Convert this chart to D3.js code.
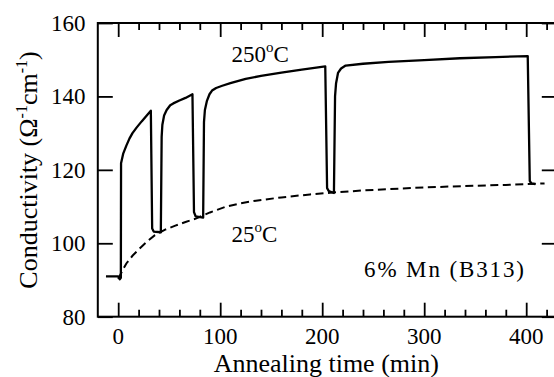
<!DOCTYPE html>
<html><head><meta charset="utf-8">
<script src="https://cdn.jsdelivr.net/npm/d3@7"></script>
<style>
svg text, svg tspan { font-family: "Liberation Serif", "Times New Roman", Tinos, Times !important; }
</style>
</head><body style="margin:0">
<svg id="c" width="554" height="377"></svg>
<script>
// ---- data ----
const xMajorTicks = [0, 100, 200, 300, 400];
const xMinorTicks = [20, 40, 60, 80, 120, 140, 160, 180, 220, 240, 260, 280, 320, 340, 360, 380, 420];
const yTicks = [80, 100, 120, 140, 160];
// 250 °C anneal cycles (time min, conductivity)
const anneal250 = [
  [-12, 91], [0, 91], [1.5, 90.2], [2.6, 90.6], [2.8, 121.8], [5, 124.5], [8, 126.6], [11, 128.5],
  [14, 130], [18, 131.5], [23, 133.2], [28, 134.8], [32, 136.1], [33.3, 104], [34.8, 103.2],
  [41.8, 103], [42.6, 129], [43.3, 132.3], [45, 134.8], [47.5, 136.3], [51, 137.6], [54, 138.1],
  [60, 138.9], [66, 139.6], [72.8, 140.6], [74.3, 108.5], [76, 107.3], [83.3, 107], [84.1, 133],
  [85, 136.3], [87, 138.8], [89.5, 140.6], [92, 141.6], [96, 142.3], [102, 142.9], [110, 143.6],
  [125, 144.8], [140, 145.6], [160, 146.5], [180, 147.3], [203, 148.2], [204.8, 115], [206.5, 114.2],
  [211.5, 113.7], [212.6, 140], [213.6, 143.6], [215.5, 146.4], [218.5, 147.6], [223, 148.4],
  [240, 148.9], [265, 149.4], [300, 149.9], [335, 150.4], [370, 150.7], [401.5, 151],
  [403.5, 117], [405, 116.3], [409, 116.1]
];
// 25 °C baseline (dashed)
const room25 = [
  [0, 90.3], [4, 92.5], [8, 94.5], [14, 96.6], [20, 98.3], [28, 100.4], [36, 102.2], [46, 103.7],
  [56, 104.8], [66, 105.8], [76, 106.7], [90, 108.4], [106, 110], [120, 110.9], [135, 111.6],
  [160, 112.5], [188, 113.3], [210, 113.8], [240, 114.4], [276, 114.9], [300, 115.2],
  [340, 115.6], [380, 115.9], [418, 116.3]
];
const label250 = "250";
const label25 = "25";
const sampleLabel = "6% Mn (B313)";

// ---- drawing ----
const svg = d3.select("#c");
const x = d3.scaleLinear().domain([-20, 430]).range([97.8, 556.8]);
const y = d3.scaleLinear().domain([80, 160]).range([316.7, 23]);
const serif = sel => sel.style("font-family", '"Liberation Serif", "Times New Roman", Tinos, Times', "important");

// frame
svg.append("rect")
  .attr("x", x(-20)).attr("y", y(160))
  .attr("width", x(430) - x(-20)).attr("height", y(80) - y(160))
  .attr("fill", "none").attr("stroke", "#000").attr("stroke-width", 2);

// ticks (inward, on all four sides)
function tickAxis(gen, tr, vals, size) {
  const g = svg.append("g").attr("transform", tr)
    .call(gen.tickValues(vals).tickSize(size).tickFormat(""));
  g.select(".domain").remove();
  g.selectAll(".tick text").remove();
  g.attr("font-family", null).attr("font-size", null);
  g.selectAll(".tick line").attr("stroke", "#000").attr("stroke-width", 1.8);
}
tickAxis(d3.axisBottom(x), `translate(0,${y(80)})`, xMajorTicks, -14);
tickAxis(d3.axisBottom(x), `translate(0,${y(80)})`, xMinorTicks, -7);
tickAxis(d3.axisTop(x), `translate(0,${y(160)})`, xMajorTicks, -14);
tickAxis(d3.axisTop(x), `translate(0,${y(160)})`, xMinorTicks, -7);
tickAxis(d3.axisLeft(y), `translate(${x(-20)},0)`, yTicks, -15);
tickAxis(d3.axisRight(y), `translate(${x(430)},0)`, yTicks, -15);

// tick labels
svg.append("g").selectAll("text").data(xMajorTicks).join("text")
  .attr("x", d => x(d)).attr("y", 343.5).attr("text-anchor", "middle")
  .attr("font-size", 23).call(serif).text(d => d);
svg.append("g").selectAll("text").data(yTicks).join("text")
  .attr("x", 85.5).attr("y", d => y(d) + 7.8).attr("text-anchor", "end")
  .attr("font-size", 23).call(serif).text(d => d);

// axis titles
svg.append("text").attr("x", x(204)).attr("y", 372).attr("text-anchor", "middle")
  .attr("font-size", 26).call(serif).text("Annealing time (min)");
const yt = svg.append("text").attr("transform", "translate(37,170) rotate(-90)")
  .attr("text-anchor", "middle").attr("font-size", 26).call(serif);
yt.append("tspan").text("Conductivity (\u03A9");
yt.append("tspan").attr("font-size", 16).attr("dy", -10).text("-1");
yt.append("tspan").attr("dy", 10).text("cm");
yt.append("tspan").attr("font-size", 16).attr("dy", -10).text("-1");
yt.append("tspan").attr("dy", 10).text(")");

// lines
const line = d3.line().x(d => x(d[0])).y(d => y(d[1]));
svg.append("path").datum(room25).attr("d", line)
  .attr("fill", "none").attr("stroke", "#000").attr("stroke-width", 2)
  .attr("stroke-dasharray", "8,4.5");
svg.append("path").datum(anneal250).attr("d", line)
  .attr("fill", "none").attr("stroke", "#000").attr("stroke-width", 2.3)
  .attr("stroke-linejoin", "round");

// annotations
function tempLabel(px, py, num) {
  const t = svg.append("text").attr("x", px).attr("y", py).attr("font-size", 23).call(serif);
  t.append("tspan").text(num);
  t.append("tspan").attr("font-size", 15).attr("dy", -10).text("o");
  t.append("tspan").attr("dy", 10).text("C");
}
tempLabel(231.5, 61.8, label250);
tempLabel(231.5, 241.8, label25);
svg.append("text").attr("x", 364).attr("y", 277).attr("font-size", 23)
  .attr("textLength", 160).attr("lengthAdjust", "spacing")
  .call(serif).text(sampleLabel);
</script>
</body></html>
